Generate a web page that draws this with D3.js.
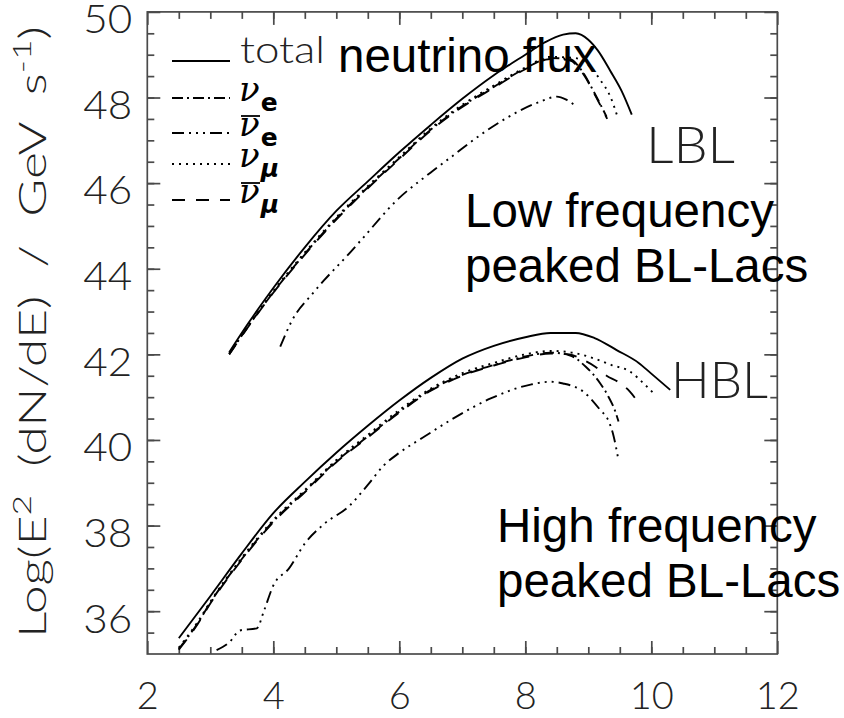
<!DOCTYPE html>
<html><head><meta charset="utf-8">
<script src="https://cdn.jsdelivr.net/npm/d3@7"></script>
<style>
body{margin:0;background:#fff}
.thin{font-family:Lato,"Open Sans",Roboto,sans-serif;font-weight:300;fill:#222}
.big{font-family:"Liberation Sans",Arial,sans-serif;fill:#000}
</style>
</head><body>
<svg id="c" width="844" height="718"></svg>
<script>
// ---------- data ----------
const xMajor = [2,4,6,8,10,12];
const yMajor = [36,38,40,42,44,46,48,50];
const xMinor = d3.range(2.5,12,0.5);
const yMinor = d3.range(35.5,50,0.5);

// LBL (Low frequency peaked BL-Lacs)
const lblTotal = [[3.3,42.05],[3.6,42.72],[4.0,43.55],[4.5,44.5],[5.0,45.35],[5.5,46.04],[6.0,46.72],[6.5,47.36],[7.0,47.97],[7.5,48.52],[8.0,49.0],[8.3,49.28],[8.6,49.47],[8.8,49.5],[9.0,49.35],[9.15,49.1],[9.35,48.62],[9.53,48.15],[9.69,47.6]];
const lblNuE = [[3.3,42.0],[3.6,42.65],[4.0,43.45],[4.5,44.35],[5.0,45.17],[5.5,45.9],[6.0,46.58],[6.5,47.25],[7.0,47.8],[7.5,48.25],[8.0,48.68],[8.4,48.92],[8.7,48.9],[8.9,48.62],[9.1,48.1],[9.29,47.55]];
const lblNuEBar = [[4.11,42.18],[4.3,42.8],[4.63,43.43],[4.8,43.72],[5.17,44.3],[5.4,44.68],[5.96,45.6],[6.5,46.25],[6.86,46.65],[7.17,47.0],[7.7,47.52],[8.23,47.9],[8.5,48.02],[8.65,47.95],[8.8,47.8]];
const lblNuMu = [[3.3,42.02],[3.6,42.67],[4.0,43.48],[4.5,44.38],[5.0,45.2],[5.5,45.93],[6.0,46.61],[6.5,47.28],[7.0,47.83],[7.5,48.28],[8.0,48.7],[8.4,48.95],[8.8,48.92],[9.03,48.72],[9.19,48.41],[9.35,48.02],[9.47,47.52]];
const lblNuMuBar = [[3.3,42.0],[3.6,42.64],[4.0,43.44],[4.5,44.33],[5.0,45.15],[5.5,45.88],[6.0,46.56],[6.5,47.23],[7.0,47.78],[7.5,48.23],[8.0,48.66],[8.4,48.9],[8.7,48.87],[8.92,48.55],[9.12,48.02],[9.3,47.5]];

// HBL (High frequency peaked BL-Lacs)
const hblTotal = [[2.5,35.37],[3.0,36.35],[3.5,37.35],[4.0,38.29],[4.5,39.02],[5.0,39.7],[5.5,40.33],[6.0,40.92],[6.5,41.45],[7.0,41.9],[7.5,42.2],[8.0,42.4],[8.4,42.5],[8.8,42.5],[9.1,42.38],[9.45,42.1],[9.8,41.8],[10.0,41.55],[10.3,41.17]];
const hblNuE = [[2.5,35.12],[2.8,35.72],[3.0,36.2],[3.5,37.22],[4.0,38.1],[4.5,38.8],[5.0,39.5],[5.5,40.08],[6.0,40.66],[6.5,41.17],[7.0,41.52],[7.5,41.75],[8.0,41.95],[8.4,42.04],[8.7,41.98],[8.96,41.71],[9.19,41.32],[9.32,41.01],[9.43,40.66],[9.48,40.43]];
const hblNuEBar = [[3.1,35.09],[3.3,35.27],[3.47,35.55],[3.74,35.6],[3.85,36.0],[4.0,36.6],[4.25,37.0],[4.5,37.58],[4.8,38.03],[5.2,38.45],[5.5,38.95],[5.75,39.4],[6.0,39.7],[6.4,40.08],[6.9,40.54],[7.45,40.97],[8.1,41.3],[8.4,41.36],[8.6,41.32],[8.92,41.13],[9.19,40.7],[9.32,40.45],[9.4,40.1],[9.47,39.6]];
const hblNuMu = [[2.5,35.15],[2.8,35.75],[3.0,36.22],[3.5,37.25],[4.0,38.13],[4.5,38.83],[5.0,39.53],[5.5,40.12],[6.0,40.7],[6.5,41.2],[7.0,41.56],[7.5,41.8],[8.0,42.0],[8.4,42.08],[8.7,42.05],[8.9,41.99],[9.1,41.9],[9.37,41.75],[9.66,41.6],[9.9,41.29],[10.03,41.1]];
const hblNuMuBar = [[2.5,35.1],[2.8,35.7],[3.0,36.18],[3.5,37.2],[4.0,38.08],[4.5,38.78],[5.0,39.48],[5.5,40.06],[6.0,40.64],[6.5,41.15],[7.0,41.5],[7.5,41.74],[8.0,41.93],[8.4,42.02],[8.7,42.0],[8.92,41.87],[9.11,41.71],[9.29,41.5],[9.48,41.35],[9.66,41.13],[9.8,40.86]];

const legendLabels = ["total","e","e","μ","μ"];

// ---------- layout ----------
const svg = d3.select("#c");
const L = 147.3, R = 777.3, T = 11.9, B = 654;
const x = d3.scaleLinear().domain([2,12]).range([L,R]);
const y = d3.scaleLinear().domain([35,50]).range([B,T]);
const axisColor = "#4a4a4a";

const styles = {
  total: null,
  nuE: "11,4,2,4",
  nuEBar: "12,5,2,5,2,5,2,5",
  nuMu: "2,5",
  nuMuBar: "13,11"
};

// frame
svg.append("rect").attr("x",L).attr("y",T).attr("width",R-L).attr("height",B-T)
  .attr("fill","none").attr("stroke",axisColor).attr("stroke-width",1.7);

function styleAxis(g){
  g.select(".domain").remove();
  g.selectAll(".tick line").attr("stroke",axisColor).attr("stroke-width",1.7);
}
// bottom
svg.append("g").attr("transform",`translate(0,${B})`)
  .call(d3.axisBottom(x).tickValues(xMajor).tickSize(-13).tickPadding(28).tickFormat(d3.format("d")))
  .call(styleAxis)
  .call(g=>g.selectAll("text").attr("class","thin").attr("font-size",38).attr("fill","#222").attr("dy","0.71em"));
svg.append("g").attr("transform",`translate(0,${B})`)
  .call(d3.axisBottom(x).tickValues(xMinor).tickSize(-7).tickFormat(""))
  .call(styleAxis);
// top
svg.append("g").attr("transform",`translate(0,${T})`)
  .call(d3.axisTop(x).tickValues(xMajor).tickSize(-13).tickFormat(""))
  .call(styleAxis);
svg.append("g").attr("transform",`translate(0,${T})`)
  .call(d3.axisTop(x).tickValues(xMinor).tickSize(-7).tickFormat(""))
  .call(styleAxis);
// left
svg.append("g").attr("transform",`translate(${L},0)`)
  .call(d3.axisLeft(y).tickValues(yMajor).tickSize(-13).tickPadding(15).tickFormat(d3.format("d")))
  .call(styleAxis)
  .call(g=>g.selectAll("text").attr("class","thin").attr("font-size",40).attr("fill","#222")
    .attr("dy","0.52em").attr("textLength",49).attr("lengthAdjust","spacingAndGlyphs"));
svg.append("g").attr("transform",`translate(${L},0)`)
  .call(d3.axisLeft(y).tickValues(yMinor).tickSize(-7).tickFormat(""))
  .call(styleAxis);
// right
svg.append("g").attr("transform",`translate(${R},0)`)
  .call(d3.axisRight(y).tickValues(yMajor).tickSize(-13).tickFormat(""))
  .call(styleAxis);
svg.append("g").attr("transform",`translate(${R},0)`)
  .call(d3.axisRight(y).tickValues(yMinor).tickSize(-7).tickFormat(""))
  .call(styleAxis);

// y title
const yt = svg.append("text").attr("class","thin").attr("font-size",38)
  .attr("transform","translate(46,332) rotate(-90)").attr("text-anchor","middle")
  .attr("textLength",612).attr("lengthAdjust","spacingAndGlyphs")
  .style("white-space","pre");
yt.append("tspan").text("Log(E");
yt.append("tspan").attr("dy",-15).attr("font-size",26).text("2");
yt.append("tspan").attr("dy",15).text("  (dN/dE)  /  GeV  s");
yt.append("tspan").attr("dy",-15).attr("font-size",26).text("-1");
yt.append("tspan").attr("dy",15).text(")");

// curves
const line = d3.line().x(d=>x(d[0])).y(d=>y(d[1])).curve(d3.curveMonotoneX);
const series = [
  [lblTotal,"total"],[lblNuE,"nuE"],[lblNuEBar,"nuEBar"],[lblNuMu,"nuMu"],[lblNuMuBar,"nuMuBar"],
  [hblTotal,"total"],[hblNuE,"nuE"],[hblNuEBar,"nuEBar"],[hblNuMu,"nuMu"],[hblNuMuBar,"nuMuBar"]
];
svg.append("g").selectAll("path").data(series).join("path")
  .attr("d",d=>line(d[0])).attr("fill","none").attr("stroke","#000")
  .attr("stroke-width",1.9).attr("stroke-dasharray",d=>styles[d[1]]);

// legend
const legRows = [["total",61],["nuE",98],["nuEBar",133],["nuMu",164],["nuMuBar",200]];
svg.append("g").selectAll("line").data(legRows).join("line")
  .attr("x1",172).attr("x2",230).attr("y1",d=>d[1]).attr("y2",d=>d[1])
  .attr("stroke","#000").attr("stroke-width",2).attr("stroke-dasharray",d=>styles[d[0]]);
svg.append("text").attr("class","thin").attr("x",240).attr("y",63).attr("font-size",38)
  .attr("textLength",85).attr("lengthAdjust","spacingAndGlyphs").text(legendLabels[0]);
legRows.slice(1).forEach((r,i)=>{
  const bar = (i===1||i===3);
  const t = svg.append("text").attr("x",239).attr("y",r[1]+3);
  t.append("tspan").attr("font-family","DejaVu Serif").attr("font-style","italic").attr("font-size",34).text("ν");
  t.append("tspan").attr("font-family","DejaVu Sans").attr("font-weight","bold")
    .attr("font-style",legendLabels[i+1]==="μ"?"italic":"normal")
    .attr("font-size",25).attr("dy",10).attr("dx",1).text(legendLabels[i+1]);
  if(bar){
    svg.append("line").attr("x1",241).attr("x2",260).attr("y1",r[1]-17).attr("y2",r[1]-17)
      .attr("stroke","#000").attr("stroke-width",1.8);
  }
});

// annotations
svg.append("text").attr("class","big").attr("x",338).attr("y",72).attr("font-size",47.5).text("neutrino flux");
svg.append("text").attr("class","thin").attr("x",646).attr("y",163).attr("font-size",51)
  .attr("textLength",89).attr("lengthAdjust","spacingAndGlyphs").text("LBL");
svg.append("text").attr("class","big").attr("x",465).attr("y",227).attr("font-size",47.5).text("Low frequency");
svg.append("text").attr("class","big").attr("x",465).attr("y",282).attr("font-size",47.5).text("peaked BL-Lacs");
svg.append("text").attr("class","thin").attr("x",671).attr("y",398).attr("font-size",51)
  .attr("textLength",97).attr("lengthAdjust","spacingAndGlyphs").text("HBL");
svg.append("text").attr("class","big").attr("x",497).attr("y",542).attr("font-size",47.5).text("High frequency");
svg.append("text").attr("class","big").attr("x",497).attr("y",597).attr("font-size",47.5).text("peaked BL-Lacs");
</script>
</body></html>
